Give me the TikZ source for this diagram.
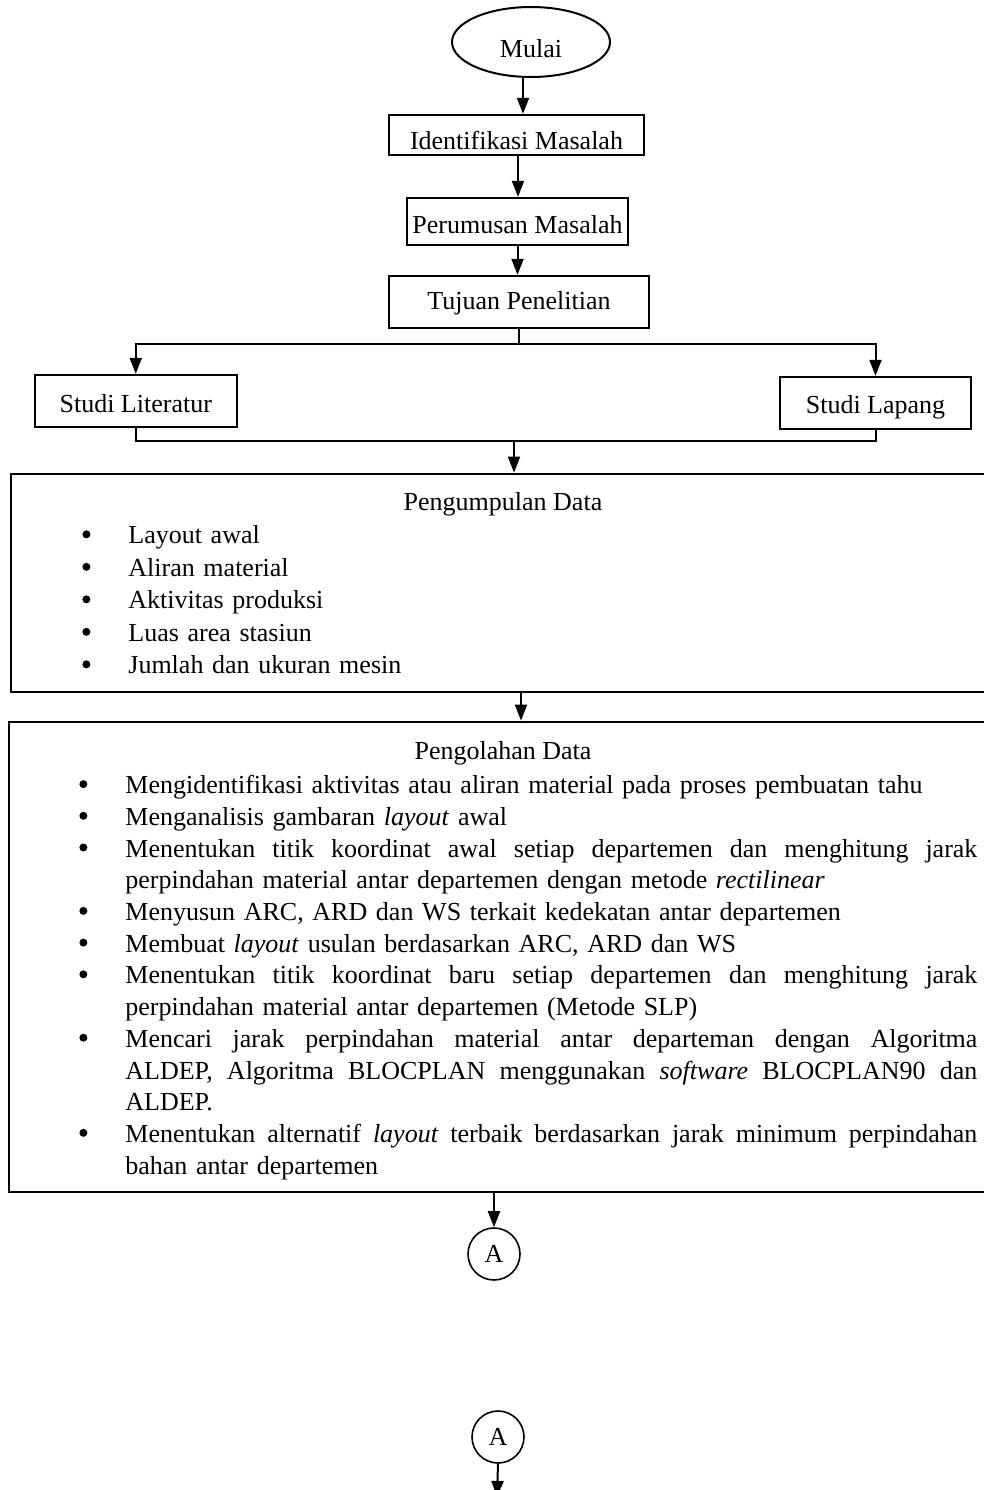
\documentclass[tikz,border=0pt]{standalone}
\usepackage{fontspec}
\setmainfont{Liberation Serif}
\usetikzlibrary{arrows.meta,shapes.geometric,calc}
\newlength\jw
\setlength\jw{426pt}
\newcommand\bdot{\makebox[23.5pt][l]{\hspace*{0.5pt}\tikz[baseline=0pt,x=1pt,y=1pt]\fill (2pt,4.8pt) circle (2pt);}}
\newcommand\bli[1]{\noindent\bdot#1\par}
\newcommand\cli[1]{\noindent\hspace*{23.5pt}#1\par}
\newcommand\jl[1]{\hbox to \jw{\spaceskip=0.25em plus 1fil\relax #1}}
\begin{document}
\begin{tikzpicture}[x=0.5pt,y=-0.5pt,
  every node/.style={font=\fontsize{13}{15.85}\selectfont},
  box/.style={draw,line width=1.2pt,inner sep=0pt,text depth=0pt},
  bigbox/.style={draw,line width=1.4pt,inner sep=0pt},
  arr/.style={line width=1pt,-{Triangle[length=8pt,width=6pt]}},
  ln/.style={line width=1pt},
  conn/.style={draw,circle,line width=0.8pt,minimum size=26pt,inner sep=0pt},
  lst/.style={anchor=north west,inner sep=0pt,text width=449.5pt,align=left}]
\useasboundingbox (0,0) rectangle (984,1490);
\clip (0,0) rectangle (984,1490);

\node[box,line width=1pt,ellipse,minimum width=79pt,minimum height=35pt,text height=15pt] (mulai) at (531,42) {Mulai};
\node[box,minimum width=127.5pt,minimum height=20pt,text height=14pt] (ident) at (516.5,135) {Identifikasi Masalah};
\node[box,minimum width=110.5pt,minimum height=23.5pt,text height=11.5pt] (perum) at (517.5,221.5) {Perumusan Masalah};
\node[box,minimum width=130pt,minimum height=26pt,text height=7pt] (tujuan) at (519,302) {Tujuan Penelitian};
\node[box,minimum width=101pt,minimum height=26pt,text height=11pt] (lit) at (135.75,401) {Studi Literatur};
\node[box,minimum width=95.5pt,minimum height=26pt,text height=10pt] (lap) at (875.5,403) {Studi Lapang};
\node[bigbox,minimum width=494.5pt,minimum height=109pt] (kumpul) at (505.5,583) {};
\node[bigbox,minimum width=495.5pt,minimum height=235pt] (olah) at (504.5,957) {};
\node[conn] (a1) at (494,1254) {A};
\node[conn] (a2) at (498,1437) {A};

% texts in the big boxes
\node[anchor=base] (kt) at (503,510) {Pengumpulan Data};
\node[lst,font=\fontsize{13}{16.25}\selectfont] (kl) at (81,525.5) {%
\bli{Layout awal}
\bli{Aliran material}
\bli{Aktivitas produksi}
\bli{Luas area stasiun}
\bli{Jumlah dan ukuran mesin}};

\node[anchor=base] (ot) at (503,759) {Pengolahan Data};
\node[lst] (ol) at (78,775) {%
\bli{Mengidentifikasi aktivitas atau aliran material pada proses pembuatan tahu}
\bli{Menganalisis gambaran \textit{layout} awal}
\bli{\jl{Menentukan titik koordinat awal setiap departemen dan menghitung jarak}}
\cli{perpindahan material antar departemen dengan metode \textit{rectilinear}}
\bli{Menyusun ARC, ARD dan WS terkait kedekatan antar departemen}
\bli{Membuat \textit{layout} usulan berdasarkan ARC, ARD dan WS}
\bli{\jl{Menentukan titik koordinat baru setiap departemen dan menghitung jarak}}
\cli{perpindahan material antar departemen (Metode SLP)}
\bli{\jl{Mencari jarak perpindahan material antar departeman dengan Algoritma}}
\cli{\jl{ALDEP, Algoritma BLOCPLAN menggunakan \textit{software} BLOCPLAN90 dan}}
\cli{ALDEP.}
\bli{\jl{Menentukan alternatif \textit{layout} terbaik berdasarkan jarak minimum perpindahan}}
\cli{bahan antar departemen}};

% connectors
\draw[arr] ([xshift=-4pt]mulai.south) -- ([xshift=-4pt]mulai.south |- ident.north);
\draw[arr] ([xshift=0.75pt]ident.south) -- ([xshift=0.75pt]ident.south |- perum.north);
\draw[arr] (perum.south) -- (perum.south |- tujuan.north);
\coordinate (bar) at (0,344);
\draw[ln] (tujuan.south) -- (tujuan.south |- bar);
\draw[arr] (tujuan.south |- bar) -| (lit.north);
\draw[arr] (tujuan.south |- bar) -| (lap.north);
\coordinate (join) at (0,441);
\draw[ln] (lit.south) -- (lit.south |- join) -- (lap.south |- join) -- (lap.south);
\coordinate (jc) at (514,441);
\draw[arr] (jc) -- (jc |- kumpul.north);
\coordinate (k2) at (521,0);
\draw[arr] (k2 |- kumpul.south) -- (k2 |- olah.north);
\draw[arr] (a1 |- olah.south) -- (a1.north);
\coordinate (fin) at (497,1497);
\draw[arr] (a2.south) -- (fin);
\end{tikzpicture}
\end{document}
